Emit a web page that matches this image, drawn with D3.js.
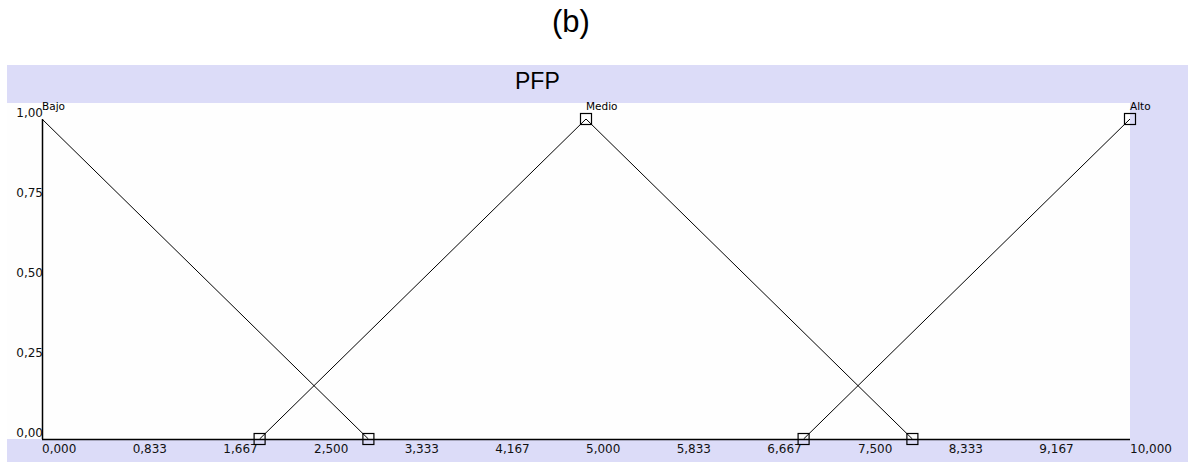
<!DOCTYPE html>
<html><head><meta charset="utf-8">
<script src="https://cdn.jsdelivr.net/npm/d3@7"></script>
<style>body{margin:0;background:#fff;} svg{display:block;}</style>
</head><body>
<svg id="c" width="1188" height="462"></svg>
<script>
const title = "PFP";
const caption = "(b)";
const sets = ["Bajo", "Medio", "Alto"];
const setX = [[0, 3], [2, 5, 8], [7, 10]];
const setY = [[1, 0], [0, 1, 0], [0, 1]];
const setBoxes = [[false, true], [true, true, true], [true, true]];
const xTicks = [0, 0.833, 1.667, 2.5, 3.333, 4.167, 5, 5.833, 6.667, 7.5, 8.333, 9.167, 10];
const xTickLabels = ["0,000","0,833","1,667","2,500","3,333","4,167","5,000","5,833","6,667","7,500","8,333","9,167","10,000"];
const yTicks = [0, 0.25, 0.5, 0.75, 1];
const yTickLabels = ["0,00","0,25","0,50","0,75","1,00"];

const svg = d3.select("#c");
const lav = "#dcdcf8";
const arial = "Liberation Sans, Arial, sans-serif";
const small = "DejaVu Sans, Verdana, sans-serif";
svg.append("rect").attr("x",7).attr("y",65).attr("width",1181).attr("height",397).attr("fill",lav);
svg.append("rect").attr("x",7).attr("y",103).attr("width",1123).attr("height",336).attr("fill","#fefefe");

svg.append("text").attr("x",571).attr("y",32).attr("text-anchor","middle")
  .attr("font-family",arial).attr("font-size",31).text(caption);
svg.append("text").attr("x",515).attr("y",89)
  .attr("font-family",arial).attr("font-size",23).text(title);

const x = d3.scaleLinear().domain([0,10]).range([42,1130]);
const y = d3.scaleLinear().domain([0,1]).range([439,119]);

svg.append("line").attr("x1",x(0)).attr("x2",x(10)).attr("y1",y(0)+0.5).attr("y2",y(0)+0.5).attr("stroke","#000").attr("stroke-width",1.5);
svg.append("line").attr("x1",x(0)+0.5).attr("x2",x(0)+0.5).attr("y1",y(1)).attr("y2",y(0)).attr("stroke","#000").attr("stroke-width",1.5);

svg.selectAll("text.xt").data(xTicks).enter().append("text").attr("class","xt")
  .attr("x",d=>x(d)).attr("y",453).attr("font-family",small).attr("font-size",12).attr("fill","#111")
  .text((d,i)=>xTickLabels[i]);
svg.selectAll("text.yt").data(yTicks).enter().append("text").attr("class","yt")
  .attr("x",x(0)+1).attr("y",d=>y(d)-2).attr("text-anchor","end").attr("font-family",small).attr("font-size",12).attr("fill","#111")
  .text((d,i)=>yTickLabels[i]);

const line = d3.line().x(d=>x(d[0])).y(d=>y(d[1]));
sets.forEach((name,si)=>{
  const pts = setX[si].map((v,i)=>[v,setY[si][i]]);
  svg.append("path").attr("d",line(pts)).attr("fill","none").attr("stroke","#000").attr("stroke-width",1);
  pts.forEach((p,i)=>{
    if(setBoxes[si][i]) svg.append("rect").attr("x",x(p[0])-5.5).attr("y",y(p[1])-5.5).attr("width",11).attr("height",11)
      .attr("fill","none").attr("stroke","#000").attr("stroke-width",1.2);
  });
  const peak = pts.find(p=>p[1]===1);
  svg.append("text").attr("x",x(peak[0])).attr("y",110).attr("font-family",small).attr("font-size",10.5).text(name);
});
</script>
</body></html>
